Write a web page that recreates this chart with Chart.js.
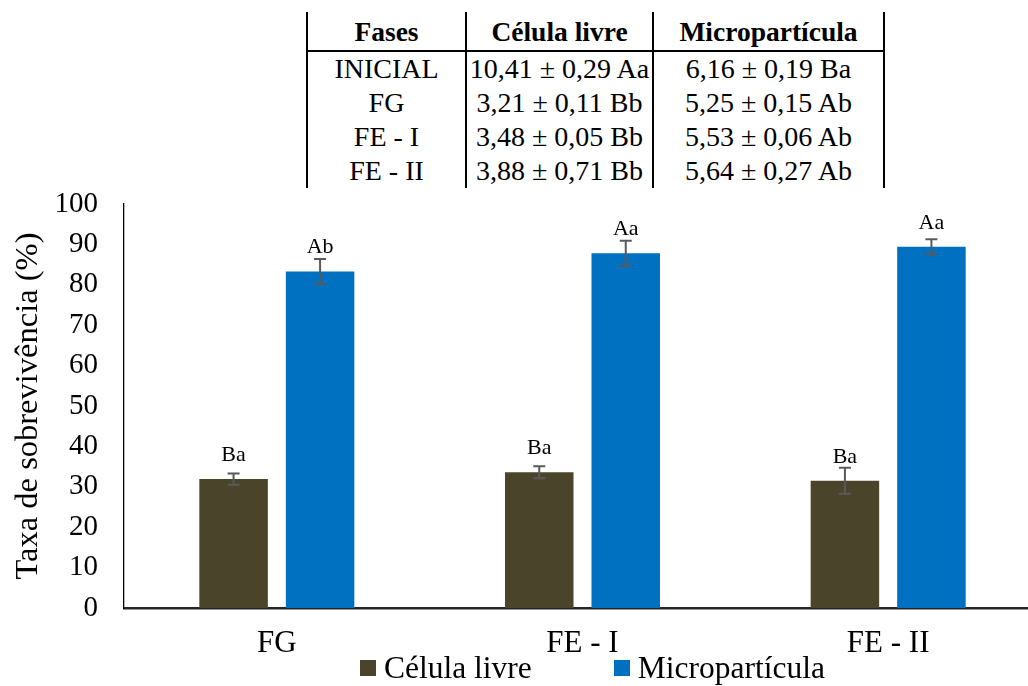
<!DOCTYPE html>
<html lang="pt">
<head>
<meta charset="utf-8">
<title>Taxa de sobrevivência</title>
<script src="https://cdn.jsdelivr.net/npm/chart.js@4.4.1/dist/chart.umd.min.js"></script>
<style>
  html, body { margin: 0; padding: 0; background: #fff; overflow: hidden; width: 1028px; height: 686px; }
  #wrap { position: absolute; left: 0; top: 0; width: 1041px; height: 686px; }
  #summary {
    position: absolute; left: 306px; top: 12px;
    border-collapse: collapse; table-layout: fixed;
    font-family: "Times New Roman", "Liberation Serif", serif; font-size: 27.5px; color: #000;
  }
  #summary th, #summary td {
    padding: 0; text-align: center; white-space: nowrap;
    border-left: 2px solid #000; border-right: 2px solid #000;
  }
  #summary th { height: 36px; font-weight: bold; border-bottom: 2.5px solid #000; padding-top: 2px; }
  #summary td { height: 34px; line-height: 30px; font-size: 28px; }
  #legend {
    position: absolute; left: 360px; top: 651px; display: flex; align-items: center;
    font-family: "Times New Roman", "Liberation Serif", serif; font-size: 31.5px; line-height: 34px; color: #000;
  }
  #legend .item { display: flex; align-items: center; margin-right: 82px; }
  #legend .box { width: 16px; height: 16px; margin-right: 8px; }
</style>
</head>
<body>
<table id="summary">
  <colgroup><col style="width:159px"><col style="width:187px"><col style="width:231px"></colgroup>
  <thead><tr id="summaryHead"></tr></thead>
  <tbody id="summaryBody"></tbody>
</table>
<div id="wrap"><canvas id="chart"></canvas></div>
<div id="legend"></div>
<script>
// Fases do ensaio (eixo x)
const categories = ['FG', 'FE - I', 'FE - II'];

// Taxa de sobrevivência (%) e desvio padrão
const celulaLivre = [31.9, 33.6, 31.5];
const celulaLivreErr = [1.4, 1.5, 3.2];
const microparticula = [83.3, 87.8, 89.4];
const microparticulaErr = [3.1, 3.1, 1.9];

// Letras de significância sobre as barras
const celulaLivreLetters = ['Ba', 'Ba', 'Ba'];
const microparticulaLetters = ['Ab', 'Aa', 'Aa'];

// Eixo y
const yMin = 0;
const yMax = 100;
const yStep = 10;

// Tabela de contagens (log UFC)
const tableHeader = ['Fases', 'Célula livre', 'Micropartícula'];
const tablePhases = ['INICIAL', 'FG', 'FE - I', 'FE - II'];
const tableCelula = ['10,41 ± 0,29 Aa', '3,21 ± 0,11 Bb', '3,48 ± 0,05 Bb', '3,88 ± 0,71 Bb'];
const tableMicro = ['6,16 ± 0,19 Ba', '5,25 ± 0,15 Ab', '5,53 ± 0,06 Ab', '5,64 ± 0,27 Ab'];

const SERIF = '"Times New Roman", "Liberation Serif", serif';

// Monta a tabela
const head = document.getElementById('summaryHead');
tableHeader.forEach(h => { const th = document.createElement('th'); th.textContent = h; head.appendChild(th); });
const body = document.getElementById('summaryBody');
tablePhases.forEach((p, i) => {
  const tr = document.createElement('tr');
  [p, tableCelula[i], tableMicro[i]].forEach(t => { const td = document.createElement('td'); td.textContent = t; tr.appendChild(td); });
  body.appendChild(tr);
});

// Barras de erro e letras desenhadas a partir das escalas do gráfico
const errorBars = {
  id: 'errorBars',
  afterDatasetsDraw(chart) {
    const { ctx, scales: { y } } = chart;
    ctx.save();
    chart.data.datasets.forEach((ds, i) => {
      const meta = chart.getDatasetMeta(i);
      meta.data.forEach((bar, j) => {
        const v = ds.data[j];
        const e = ds.errors[j];
        const top = y.getPixelForValue(v + e);
        const bot = y.getPixelForValue(v - e);
        ctx.strokeStyle = '#595959';
        ctx.lineWidth = 2;
        ctx.beginPath();
        ctx.moveTo(bar.x, top); ctx.lineTo(bar.x, bot);
        ctx.moveTo(bar.x - 6, top); ctx.lineTo(bar.x + 6, top);
        ctx.moveTo(bar.x - 6, bot); ctx.lineTo(bar.x + 6, bot);
        ctx.stroke();
        ctx.fillStyle = '#000';
        ctx.font = '22px ' + SERIF;
        ctx.textAlign = 'center';
        ctx.textBaseline = 'middle';
        ctx.fillText(ds.letters[j], bar.x, bar.y - 24);
      });
    });
    ctx.restore();
  }
};

const chart = new Chart(document.getElementById('chart'), {
  type: 'bar',
  data: {
    labels: categories,
    datasets: [
      { label: 'Célula livre', data: celulaLivre, errors: celulaLivreErr, letters: celulaLivreLetters,
        backgroundColor: '#4a442b', borderWidth: 0 },
      { label: 'Micropartícula', data: microparticula, errors: microparticulaErr, letters: microparticulaLetters,
        backgroundColor: '#0070c0', borderWidth: 0 }
    ]
  },
  options: {
    responsive: true,
    maintainAspectRatio: false,
    animation: false,
    layout: { padding: { top: 204, left: 0, right: 0, bottom: 0 } },
    datasets: { bar: { categoryPercentage: 0.566, barPercentage: 0.792 } },
    plugins: { legend: { display: false }, tooltip: { enabled: false } },
    scales: {
      x: {
        grid: { display: false },
        border: { display: true, color: '#262626', width: 2.5 },
        ticks: { color: '#000', font: { family: SERIF, size: 31 }, padding: 9 },
        afterFit(scale) { scale.height = 78; }
      },
      y: {
        min: yMin, max: yMax,
        grid: { display: false },
        border: { display: true, color: '#000', width: 1.3 },
        ticks: { stepSize: yStep, color: '#000', font: { family: SERIF, size: 29 }, padding: 18 },
        title: { display: true, text: 'Taxa de sobrevivência (%)', color: '#000',
                 font: { family: SERIF, size: 32.5 }, padding: { top: 9, bottom: 0 } },
        afterFit(scale) { scale.width = 124; }
      }
    }
  },
  plugins: [errorBars]
});

// Legenda HTML gerada a partir das séries
const legend = document.getElementById('legend');
chart.data.datasets.forEach(ds => {
  const item = document.createElement('div'); item.className = 'item';
  const box = document.createElement('span'); box.className = 'box'; box.style.background = ds.backgroundColor;
  const txt = document.createElement('span'); txt.textContent = ds.label;
  item.appendChild(box); item.appendChild(txt); legend.appendChild(item);
});
</script>
</body>
</html>
